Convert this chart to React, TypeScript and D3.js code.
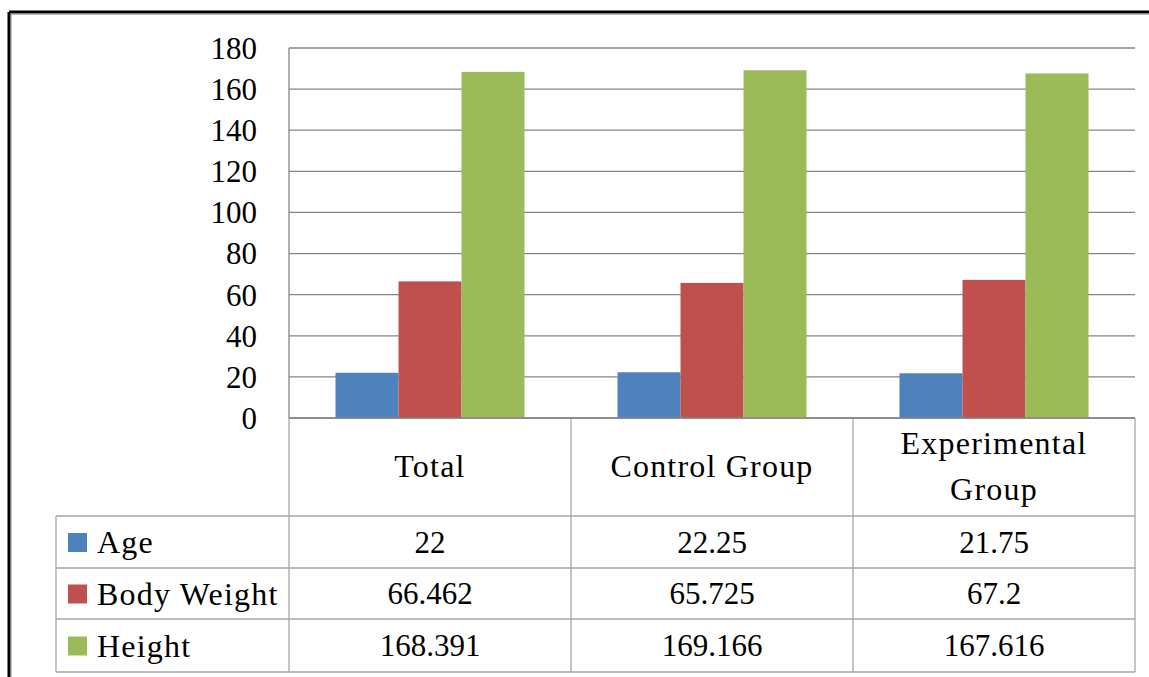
import React from 'react';
import * as d3 from 'd3';

const categories = ['Total', 'Control Group', 'Experimental Group'];
const categoryLines = [['Total'], ['Control Group'], ['Experimental', 'Group']];
const seriesNames = ['Age', 'Body Weight', 'Height'];
const seriesColors = ['#4F81BD', '#C0504D', '#9BBB59'];
const ageValues = [22, 22.25, 21.75];
const weightValues = [66.462, 65.725, 67.2];
const heightValues = [168.391, 169.166, 167.616];
const valueLabels = [
    ['22', '22.25', '21.75'],
    ['66.462', '65.725', '67.2'],
    ['168.391', '169.166', '167.616'],
];
const yTicks = [0, 20, 40, 60, 80, 100, 120, 140, 160, 180];

const W = 1149;
const H = 677;
const FONT = '"Liberation Serif", "Times New Roman", serif';

export default function App() {
    const series = [ageValues, weightValues, heightValues];

    const plotLeft = 289;
    const plotRight = 1135;
    const plotTop = 48;
    const plotBottom = 418;
    const tableLeft = 56;
    const rowLines = [516, 568, 619, 672];

    const x = d3.scaleBand<string>().domain(categories).range([plotLeft, plotRight]).padding(0);
    const xs = d3.scaleBand<string>()
        .domain(seriesNames)
        .range([0, x.bandwidth()])
        .paddingInner(0)
        .paddingOuter(0.738);
    const y = d3.scaleLinear().domain([0, 180]).range([plotBottom, plotTop]);

    const gridColor = '#868686';
    const tableColor = '#A6A6A6';
    const fs = 31;      // numbers
    const fsWord = 32;  // words, spaced out a little to approach the wider book face
    const ls = 1.2;

    return (
        <svg
            width={W}
            height={H}
            style={{ position: 'absolute', left: 0, top: 0, background: '#fff' }}
            fontFamily={FONT}
        >
            {/* frame */}
            <line x1={9} y1={12} x2={W} y2={12} stroke="#000" strokeWidth={3} />
            <line x1={9} y1={12} x2={9} y2={H} stroke="#000" strokeWidth={3} />
            <line x1={11} y1={14.5} x2={W} y2={14.5} stroke="#bbb" strokeWidth={1} />
            <line x1={11.5} y1={14} x2={11.5} y2={H} stroke="#bbb" strokeWidth={1} />

            {/* gridlines */}
            {yTicks.map(t => (
                <line key={t} x1={plotLeft} x2={plotRight} y1={y(t)} y2={y(t)} stroke={gridColor} strokeWidth={1.3} />
            ))}
            <line x1={plotLeft} x2={plotLeft} y1={plotTop} y2={plotBottom} stroke={gridColor} strokeWidth={1.3} />

            {/* y tick labels */}
            {yTicks.map(t => (
                <text key={t} x={257} y={y(t)} dy="0.35em" textAnchor="end" fontSize={fs} fill="#000">{t}</text>
            ))}

            {/* bars */}
            {categories.map((c, ci) => (
                <g key={c} transform={`translate(${x(c)},0)`}>
                    {seriesNames.map((s, si) => (
                        <rect
                            key={s}
                            x={xs(s)}
                            y={y(series[si][ci])}
                            width={xs.bandwidth()}
                            height={plotBottom - y(series[si][ci])}
                            fill={seriesColors[si]}
                        />
                    ))}
                </g>
            ))}

            {/* data table */}
            <g stroke={tableColor} strokeWidth={1.3} fill="none">
                {[...categories.map(c => x(c) as number), plotRight].map((xx, i) => (
                    <line key={'hv' + i} x1={xx} x2={xx} y1={plotBottom} y2={rowLines[3]} />
                ))}
                <line x1={tableLeft} x2={tableLeft} y1={rowLines[0]} y2={rowLines[3]} />
                {rowLines.map((ry, i) => (
                    <line key={'hr' + i} x1={tableLeft} x2={plotRight} y1={ry} y2={ry} />
                ))}
            </g>
            <line x1={plotLeft} x2={plotRight} y1={plotBottom} y2={plotBottom} stroke={gridColor} strokeWidth={1.3} />

            {/* header labels */}
            {categories.map((c, ci) => {
                const lines = categoryLines[ci];
                const cx = (x(c) as number) + x.bandwidth() / 2;
                const cy = (plotBottom + rowLines[0]) / 2 - 1;
                const lh = 46;
                return (
                    <text key={c} x={cx} textAnchor="middle" fontSize={fsWord} letterSpacing={ls} fill="#000">
                        {lines.map((l, li) => (
                            <tspan key={li} x={cx} y={cy + (li - (lines.length - 1) / 2) * lh} dy="0.35em">{l}</tspan>
                        ))}
                    </text>
                );
            })}

            {/* rows */}
            {seriesNames.map((s, si) => {
                const cy = (rowLines[si] + rowLines[si + 1]) / 2;
                return (
                    <g key={s}>
                        <rect x={68} y={cy - 9} width={19} height={19} fill={seriesColors[si]} />
                        <text x={97} y={cy} dy="0.35em" fontSize={fsWord} letterSpacing={ls} fill="#000">{s}</text>
                        {categories.map((c, ci) => (
                            <text
                                key={c}
                                x={(x(c) as number) + x.bandwidth() / 2}
                                y={cy}
                                dy="0.35em"
                                textAnchor="middle"
                                fontSize={fs}
                                fill="#000"
                            >
                                {valueLabels[si][ci]}
                            </text>
                        ))}
                    </g>
                );
            })}
        </svg>
    );
}
